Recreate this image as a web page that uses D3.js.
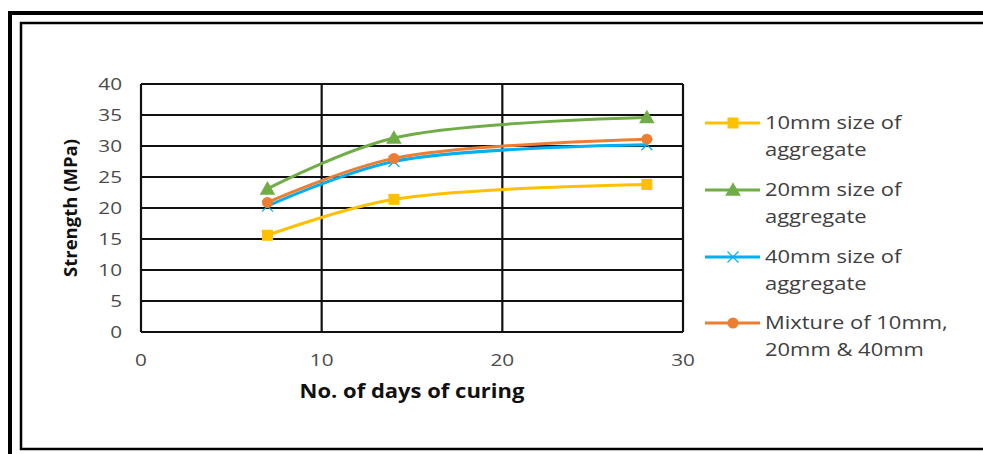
<!DOCTYPE html>
<html>
<head>
<meta charset="utf-8">
<script src="https://cdn.jsdelivr.net/npm/d3@7/dist/d3.min.js"></script>
<style>
  html, body { margin: 0; padding: 0; background: #fff; }
  svg { display: block; }
  text { font-family: "Open Sans", "Liberation Sans", sans-serif; }
</style>
</head>
<body>
<svg id="chart" width="983" height="454"></svg>
<script>
// ---- data ----
const days = [7, 14, 28];
const seriesNames = ["10mm size of aggregate", "20mm size of aggregate", "40mm size of aggregate", "Mixture of 10mm, 20mm & 40mm"];
const legendLines = [["10mm size of", "aggregate"], ["20mm size of", "aggregate"], ["40mm size of", "aggregate"], ["Mixture of 10mm,", "20mm & 40mm"]];
const s10mm = [15.6, 21.4, 23.8];
const s20mm = [23.1, 31.3, 34.6];
const s40mm = [20.3, 27.5, 30.2];
const sMix  = [20.9, 28.0, 31.1];
const xTicks = [0, 10, 20, 30];
const yTicks = [0, 5, 10, 15, 20, 25, 30, 35, 40];
const xTitle = "No. of days of curing";
const yTitle = "Strength (MPa)";

const colors = ["#FFC000", "#70AD47", "#00B0F0", "#ED7D31"];
const markers = ["square", "triangle", "cross", "circle"];
const allSeries = [s10mm, s20mm, s40mm, sMix];

const svg = d3.select("#chart");
const SX = 1.22; // horizontal text stretch of the source picture

// frames
svg.append("rect").attr("x", 10).attr("y", 13).attr("width", 1000).attr("height", 460)
  .attr("fill", "none").attr("stroke", "#000").attr("stroke-width", 4);
svg.append("rect").attr("x", 21).attr("y", 23).attr("width", 1000).attr("height", 426)
  .attr("fill", "none").attr("stroke", "#000").attr("stroke-width", 2.5);

const x = d3.scaleLinear().domain([0, 30]).range([141, 683]);
const y = d3.scaleLinear().domain([0, 40]).range([332, 84]);

function stretchedText(g, tx, ty, str, opts) {
  const t = g.append("g").attr("transform", `translate(${tx},${ty}) scale(${opts.sx || SX},1)`)
    .append("text").text(str)
    .attr("font-size", opts.size)
    .attr("fill", opts.fill || "#4a4a4a")
    .attr("font-weight", opts.weight || "normal")
    .attr("text-anchor", opts.anchor || "start");
  return t;
}

// grid
const grid = svg.append("g");
grid.selectAll("line.h").data(yTicks).join("line")
  .attr("x1", x(0)).attr("x2", x(30))
  .attr("y1", d => y(d)).attr("y2", d => y(d))
  .attr("stroke", "#111").attr("stroke-width", 2.2);
grid.selectAll("line.v").data(xTicks).join("line")
  .attr("y1", y(0)).attr("y2", y(40))
  .attr("x1", d => x(d)).attr("x2", d => x(d))
  .attr("stroke", "#111").attr("stroke-width", 2.2);

// axis labels
const axes = svg.append("g");
yTicks.forEach(t => stretchedText(axes, 122, y(t) + 6, String(t), {size: 17, anchor: "end"}));
xTicks.forEach(t => stretchedText(axes, x(t), 366, String(t), {size: 17, anchor: "middle"}));
stretchedText(axes, x(15), 398, xTitle, {size: 20, weight: "bold", fill: "#111", anchor: "middle", sx: 1.1});
svg.append("text").text(yTitle)
  .attr("transform", `translate(77,${y(20)}) rotate(-90)`)
  .attr("text-anchor", "middle")
  .attr("font-size", 18.5).attr("font-weight", "bold").attr("fill", "#111");

// markers
function drawMarker(g, type, cx, cy, color, s) {
  if (type === "square") {
    g.append("rect").attr("x", cx - s / 2).attr("y", cy - s / 2).attr("width", s).attr("height", s).attr("fill", color);
  } else if (type === "triangle") {
    const h = s * 1.0;
    g.append("path").attr("d", `M${cx},${cy - h * 0.6}L${cx + s * 0.6},${cy + h * 0.45}L${cx - s * 0.6},${cy + h * 0.45}Z`).attr("fill", color);
  } else if (type === "cross") {
    const r = s / 2;
    g.append("path").attr("d", `M${cx - r},${cy - r}L${cx + r},${cy + r}M${cx - r},${cy + r}L${cx + r},${cy - r}`)
      .attr("stroke", color).attr("stroke-width", 1.2).attr("fill", "none");
  } else {
    g.append("circle").attr("cx", cx).attr("cy", cy).attr("r", s / 2).attr("fill", color);
  }
}

const line = d3.line().x(d => x(d[0])).y(d => y(d[1])).curve(d3.curveCatmullRom.alpha(0.5));
const plot = svg.append("g");
allSeries.forEach((vals, i) => {
  const pts = days.map((d, j) => [d, vals[j]]);
  plot.append("path").attr("d", line(pts)).attr("fill", "none")
    .attr("stroke", colors[i]).attr("stroke-width", 3);
  pts.forEach(p => drawMarker(plot, markers[i], x(p[0]), y(p[1]), colors[i], i === 1 ? 13 : 11));
});

// legend
const leg = svg.append("g");
const legY = [123, 190, 257, 323];
legendLines.forEach((lines, i) => {
  leg.append("line").attr("x1", 705).attr("x2", 760).attr("y1", legY[i]).attr("y2", legY[i])
    .attr("stroke", colors[i]).attr("stroke-width", 3);
  drawMarker(leg, markers[i], 733, legY[i], colors[i], i === 1 ? 13 : 11);
  lines.forEach((ln, k) => stretchedText(leg, 765, legY[i] + 6 + k * 27, ln, {size: 18, fill: "#404040"}));
});
</script>
</body>
</html>
